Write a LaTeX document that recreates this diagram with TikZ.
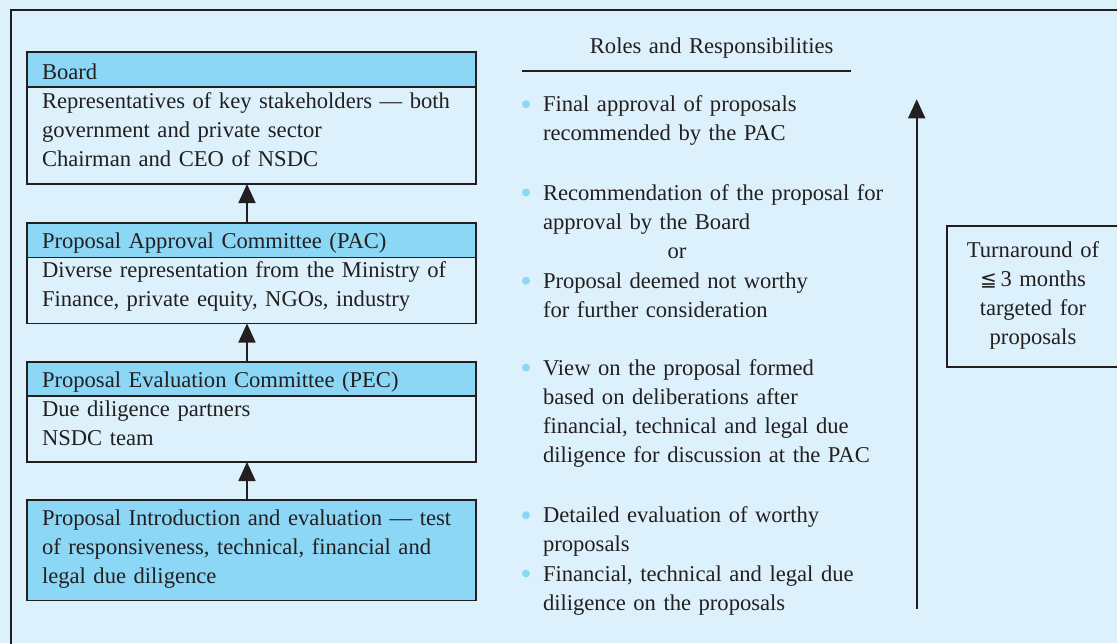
\documentclass[tikz,border=0pt]{standalone}
\usepackage{fontspec}
\setmainfont{Liberation Serif}
\newfontfamily\relsym{DejaVu Sans}
\usetikzlibrary{arrows.meta}
\definecolor{paper}{HTML}{DCF1FC}
\definecolor{headblue}{HTML}{8CD7F6}
\definecolor{ink}{HTML}{231F20}
\begin{document}
\begin{tikzpicture}[x=1pt,y=-1pt,
  every node/.style={inner sep=0pt,outer sep=0pt},
  bodyfont/.style={font=\fontsize{22.6}{29.1}\selectfont,text=ink},
  txt/.style={bodyfont,align=left,anchor=base west,text width=#1},
  ctxt/.style={bodyfont,align=center,anchor=base,text width=#1},
  headbox/.style={draw=ink,fill=headblue,line width=1.2pt,minimum width=449pt,anchor=north west},
  bodybox/.style={draw=ink,line width=1.2pt,minimum width=449pt,anchor=north west},
  uparrow/.style={draw=ink,line width=1.8pt,-{Triangle[width=17pt,length=19pt]}},
  bullet/.style={fill=headblue},
]
% page background and clipping
\fill[paper] (0,0) rectangle (1117,643);
\useasboundingbox (0,0) rectangle (1117,643);
\clip (0,0) rectangle (1117,643);

% outer frame (left and top edges visible)
\draw[ink,line width=1.5pt] (11,660) -- (11,10) -- (1130,10);

% ---- left column: committee boxes ----
\node[headbox,minimum height=35pt] (boardhead) at (27,52) {};
\node[bodybox,minimum height=97pt] (boardbody) at (27,87) {};
\node[txt=419pt] (boardtitle) at (42,79) {Board};
\node[txt=430pt] (boardtext) at (42,108.5)
  {Representatives of key stakeholders — both\\government and private sector\\Chairman and CEO of NSDC};

\node[headbox,minimum height=34.5pt] (pachead) at (27,223) {};
\node[bodybox,minimum height=66pt] (pacbody) at (27,257.5) {};
\node[txt=419pt] (pactitle) at (42,248.3) {Proposal Approval Committee (PAC)};
\node[txt=430pt] (pactext) at (42,277.7)
  {Diverse representation from the Ministry of\\Finance, private equity, NGOs, industry};

\node[headbox,minimum height=34pt] (pechead) at (27,362) {};
\node[bodybox,minimum height=66pt] (pecbody) at (27,396) {};
\node[txt=419pt] (pectitle) at (42,387.7) {Proposal Evaluation Committee (PEC)};
\node[txt=430pt] (pectext) at (42,416.7) {Due diligence partners\\NSDC team};

\node[headbox,minimum height=100.5pt] (intro) at (27,500) {};
\node[txt=430pt] (introtext) at (42,525.7)
  {Proposal Introduction and evaluation — test\\of responsiveness, technical, financial and\\legal due diligence};

% flow arrows between the boxes
\draw[uparrow] ([xshift=220pt]pachead.north west) -- ([xshift=220pt]boardbody.south west);
\draw[uparrow] ([xshift=220pt]pechead.north west) -- ([xshift=220pt]pacbody.south west);
\draw[uparrow] ([xshift=220pt]intro.north west) -- ([xshift=220pt]pecbody.south west);

% ---- right column: roles ----
\node[ctxt=340pt] (roles) at (711.7,53) {Roles and Responsibilities};
\draw[ink,line width=1.2pt] (522,71) -- (851,71);

\fill[bullet] (526,104.2) circle (4);
\node[txt=360pt] (r1) at (543,111.7) {Final approval of proposals\\recommended by the PAC};

\fill[bullet] (526,192.5) circle (4);
\node[txt=360pt] (r2) at (543,200) {Recommendation of the proposal for\\approval by the Board};
\node[ctxt=60pt] (ror) at (677,258.3) {or};
\fill[bullet] (526,280.8) circle (4);
\node[txt=360pt] (r3) at (543,288.3) {Proposal deemed not worthy\\for further consideration};

\fill[bullet] (526,367.5) circle (4);
\node[txt=360pt] (r4) at (543,375)
  {View on the proposal formed\\based on deliberations after\\financial, technical and legal due\\diligence for discussion at the PAC};

\fill[bullet] (526,515.2) circle (4);
\node[txt=360pt] (r5) at (543,522.7) {Detailed evaluation of worthy\\proposals};
\fill[bullet] (526,573.5) circle (4);
\node[txt=360pt] (r6) at (543,581) {Financial, technical and legal due\\diligence on the proposals};

% timeline arrow
\coordinate (tlow) at (916.7,609);
\coordinate (thigh) at (916.7,99.3);
\draw[uparrow] (tlow) -- (thigh);

% turnaround note
\node[draw=ink,line width=1.2pt,anchor=north west,minimum width=190pt,minimum height=141pt] (turnbox) at (947,226) {};
\node[ctxt=170pt] (turntext) at (1033,257)
  {Turnaround of\\{\relsym\fontsize{20}{29.1}\selectfont ≦}\,3 months\\targeted for\\proposals};
\end{tikzpicture}
\end{document}
